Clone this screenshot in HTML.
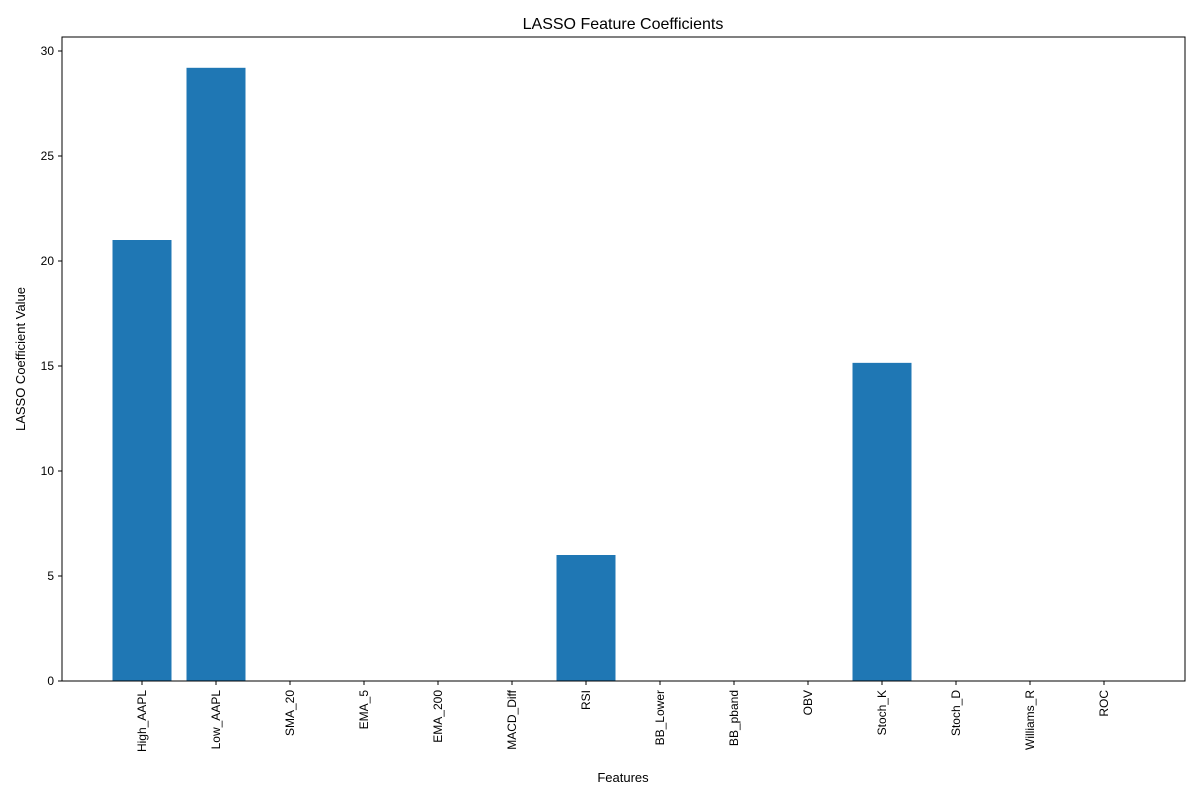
<!DOCTYPE html>
<html><head><meta charset="utf-8"><style>
body{margin:0;background:#fff;font-family:"Liberation Sans","DejaVu Sans",sans-serif;}
</style></head><body>
<svg id="chart" width="1200" height="800" xmlns="http://www.w3.org/2000/svg">
<rect width="1200" height="800" fill="#fff"/>
<text x="623" y="29" font-size="16" text-anchor="middle">LASSO Feature Coefficients</text>
<g id="bars"></g>
<g id="axes"></g>
<rect x="62" y="37" width="1123" height="644" fill="none" stroke="#000" stroke-width="1"/>
<text x="623" y="782" font-size="13" text-anchor="middle">Features</text>
<text transform="translate(25,359) rotate(-90)" font-size="13" text-anchor="middle">LASSO Coefficient Value</text>
</svg>
<script>
const categories=["High_AAPL","Low_AAPL","SMA_20","EMA_5","EMA_200","MACD_Diff","RSI","BB_Lower","BB_pband","OBV","Stoch_K","Stoch_D","Williams_R","ROC"];
const values=[21.0,29.2,0,0,0,0,6.0,0,0,0,15.15,0,0,0];
const yTicks=[0,5,10,15,20,25,30];
const NS="http://www.w3.org/2000/svg";
const y0=681, yTop=51, yMaxVal=30;
function yScale(v){return y0-(v/yMaxVal)*(y0-yTop);}
function xScale(i){return 142+i*74;}
const bw=59;
const bars=document.getElementById('bars'), axes=document.getElementById('axes');
values.forEach((v,i)=>{
 const r=document.createElementNS(NS,'rect');
 r.setAttribute('x',xScale(i)-bw/2);
 r.setAttribute('y',Math.min(yScale(v),y0));
 r.setAttribute('width',bw);
 r.setAttribute('height',Math.abs(y0-yScale(v)));
 r.setAttribute('fill','#1f77b4');
 
 
 bars.appendChild(r);
});
categories.forEach((c,i)=>{
 const x=xScale(i);
 const l=document.createElementNS(NS,'line');
 l.setAttribute('x1',x);l.setAttribute('x2',x);l.setAttribute('y1',y0);l.setAttribute('y2',y0+4);l.setAttribute('stroke','#000');
 
 
 axes.appendChild(l);
 const t=document.createElementNS(NS,'text');
 t.setAttribute('transform','translate('+(x+4)+','+(y0+9)+') rotate(-90)');
 t.setAttribute('font-size','12');t.setAttribute('text-anchor','end');
 t.textContent=c;
 
 
 axes.appendChild(t);
});
yTicks.forEach(v=>{
 const y=yScale(v);
 const l=document.createElementNS(NS,'line');
 l.setAttribute('x1',58);l.setAttribute('x2',62);l.setAttribute('y1',y);l.setAttribute('y2',y);l.setAttribute('stroke','#000');
 
 
 axes.appendChild(l);
 const t=document.createElementNS(NS,'text');
 t.setAttribute('x',54);t.setAttribute('y',y+4);t.setAttribute('font-size','12');t.setAttribute('text-anchor','end');
 t.textContent=v;
 
 
 axes.appendChild(t);
});
</script>
</body></html>
